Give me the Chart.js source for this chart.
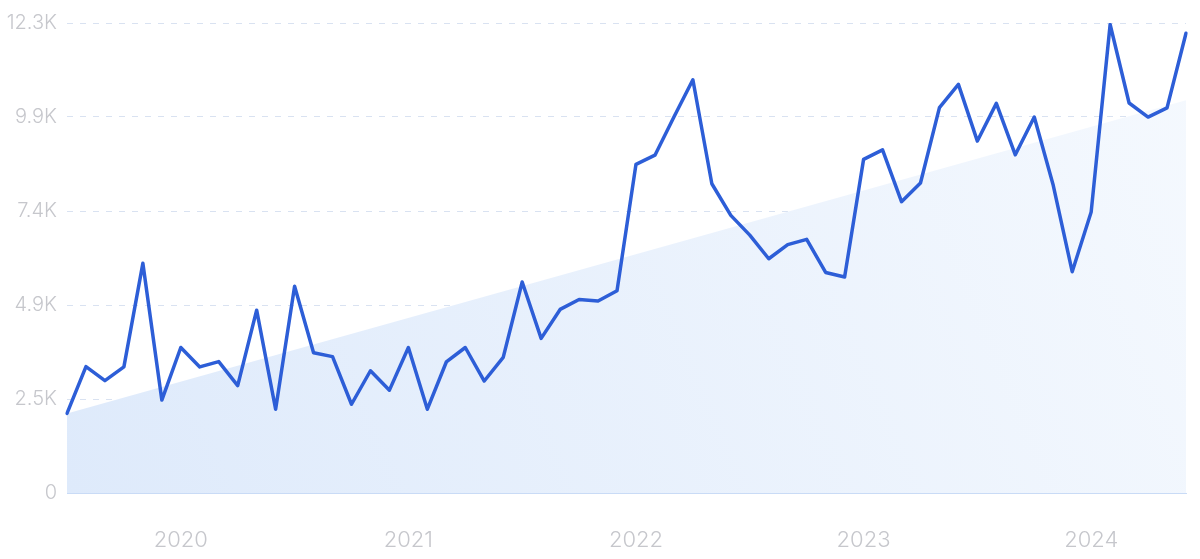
<!DOCTYPE html>
<html>
<head>
<meta charset="utf-8">
<script src="https://cdn.jsdelivr.net/npm/chart.js@4.4.1/dist/chart.umd.min.js"></script>
<style>
	html, body { margin: 0; padding: 0; background: #fff; }
	#wrap { width: 1200px; height: 559px; position: relative; }
</style>
</head>
<body>
<div id="wrap"><canvas id="chart"></canvas></div>
<script>
const months = [
	'2019-07', '2019-08', '2019-09', '2019-10', '2019-11', '2019-12',
	'2020-01', '2020-02', '2020-03', '2020-04', '2020-05', '2020-06',
	'2020-07', '2020-08', '2020-09', '2020-10', '2020-11', '2020-12',
	'2021-01', '2021-02', '2021-03', '2021-04', '2021-05', '2021-06',
	'2021-07', '2021-08', '2021-09', '2021-10', '2021-11', '2021-12',
	'2022-01', '2022-02', '2022-03', '2022-04', '2022-05', '2022-06',
	'2022-07', '2022-08', '2022-09', '2022-10', '2022-11', '2022-12',
	'2023-01', '2023-02', '2023-03', '2023-04', '2023-05', '2023-06',
	'2023-07', '2023-08', '2023-09', '2023-10', '2023-11', '2023-12',
	'2024-01', '2024-02', '2024-03', '2024-04', '2024-05', '2024-06',
];

const searches = [
	2090, 3320, 2950, 3310, 6030, 2440,
	3820, 3310, 3450, 2820, 4800, 2200,
	5430, 3680, 3580, 2330, 3210, 2700,
	3820, 2200, 3440, 3820, 2940, 3560,
	5540, 4060, 4820, 5080, 5040, 5310,
	8630, 8870, 9870, 10850, 8120, 7290,
	6770, 6150, 6520, 6660, 5790, 5670,
	8760, 9010, 7650, 8140, 10120, 10730,
	9240, 10230, 8880, 9870, 8080, 5810,
	7380, 12300, 10240, 9870, 10110, 12070,
];

// trend: only the two ends are known
const trendStart = 2090;
const trendEnd = 10310;

const yTickValues = [0, 2468, 4936, 7404, 9872, 12340];
const yTickLabels = ['0', '2.5K', '4.9K', '7.4K', '9.9K', '12.3K'];

const labelColor = '#c6c7cc';
const fontFamily = 'Inter, "Noto Sans", sans-serif';

function trendFill(context) {
	const chart = context.chart;
	const area = chart.chartArea;
	if (!area) {
		return 'rgba(222,234,251,1)';
	}
	const g = chart.ctx.createLinearGradient(area.left, area.bottom, area.right, area.top);
	g.addColorStop(0, 'rgba(222,234,251,1)');
	g.addColorStop(1, 'rgba(245,249,254,1)');
	return g;
}

new Chart(document.getElementById('chart'), {
	type: 'line',
	data: {
		labels: months,
		datasets: [
			{
				label: 'searches',
				data: searches,
				borderColor: '#2d5ed7',
				borderWidth: 3.5,
				borderJoinStyle: 'round',
				borderCapStyle: 'round',
				pointRadius: 0,
				tension: 0,
				fill: false,
				order: 0,
			},
			{
				label: 'trend',
				data: [
					{x: months[0], y: trendStart},
					{x: months[months.length - 1], y: trendEnd},
				],
				borderWidth: 0,
				borderColor: 'rgba(0,0,0,0)',
				backgroundColor: trendFill,
				pointRadius: 0,
				fill: 'origin',
				order: 1,
			},
		],
	},
	options: {
		responsive: true,
		maintainAspectRatio: false,
		animation: false,
		layout: {
			padding: {top: 23, right: 14, left: 0, bottom: 0},
		},
		plugins: {
			legend: {display: false},
			tooltip: {enabled: false},
		},
		scales: {
			x: {
				offset: false,
				grid: {display: false, drawTicks: false},
				border: {display: true, color: '#c9dbf6', width: 1},
				ticks: {
					autoSkip: false,
					maxRotation: 0,
					padding: 34,
					color: labelColor,
					font: {family: fontFamily, size: 22, weight: 300},
					callback: function(value) {
						const label = this.getLabelForValue(value);
						return label.endsWith('-01') ? label.slice(0, 4) : null;
					},
				},
				afterFit: function(scale) {
					scale.height = 66;
				},
			},
			y: {
				min: 0,
				max: 12340,
				afterBuildTicks: function(scale) {
					scale.ticks = yTickValues.map(v => ({value: v}));
				},
				grid: {
					drawTicks: false,
					color: (ctx) => (ctx.tick && ctx.tick.value === 0) ? 'rgba(0,0,0,0)' : '#d9e2f1',
					lineWidth: 1,
				},
				border: {display: false, dash: [6, 7]},
				ticks: {
					padding: 10,
					color: labelColor,
					font: {family: fontFamily, size: 20, weight: 300},
					callback: function(value, index) {
						return yTickLabels[index];
					},
				},
				afterFit: function(scale) {
					scale.width = 67;
				},
			},
		},
	},
});
</script>
</body>
</html>
